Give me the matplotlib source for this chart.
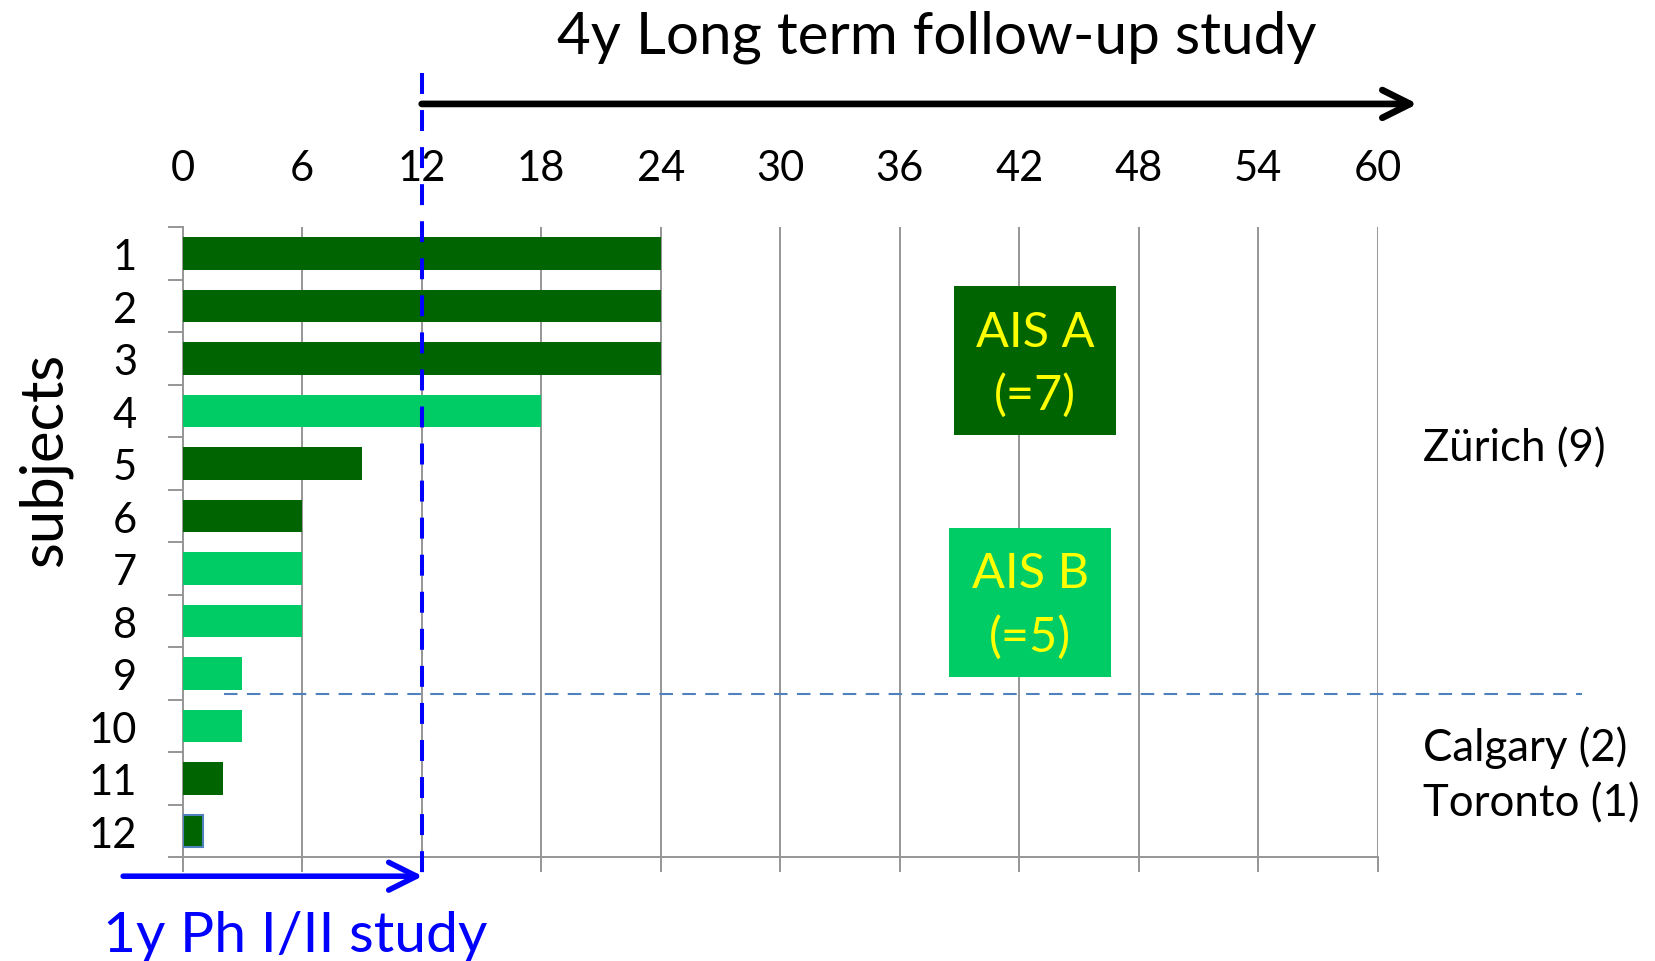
import matplotlib
matplotlib.use("Agg")
import matplotlib.pyplot as plt
from matplotlib.patches import Rectangle

# ── Data ──────────────────────────────────────────────────────────────────────
subjects = list(range(1, 13))
followup_months = [24, 24, 24, 18, 9, 6, 6, 6, 3, 3, 2, 1]
ais_grade = ["A", "A", "A", "B", "A", "A", "B", "B", "B", "B", "A", "A"]
month_ticks = list(range(0, 61, 6))
site_labels = ["Zürich (9)", "Calgary (2)", "Toronto (1)"]

# ── Style ─────────────────────────────────────────────────────────────────────
DARK_GREEN = "#006400"
LIGHT_GREEN = "#00CC66"
GRADE_COLORS = {"A": DARK_GREEN, "B": LIGHT_GREEN}
GRID_GRAY = "#969696"
FONT = "Lato"

plt.rcParams["font.family"] = [FONT, "DejaVu Sans"]

W, H = 1655, 962
fig = plt.figure(figsize=(W / 100, H / 100), dpi=100)
ax = fig.add_axes([182.7 / W, 1 - 858.3 / H, 1195 / W, 630 / H])


def fx(px):
    return px / W


def fy(py):
    return 1 - py / H


# bars
colors = [GRADE_COLORS[g] for g in ais_grade]
bars = ax.barh(subjects, followup_months, height=0.615, color=colors,
               edgecolor="none", zorder=3)
bars[-1].set_edgecolor("#4F81BD")
bars[-1].set_linewidth(1.5)

ax.set_xlim(0, 60)
ax.set_ylim(12.5, 0.5)

# x axis: labels on top, tick marks at the bottom
ax.set_xticks(month_ticks)
ax.set_xticklabels([str(m) for m in month_ticks])
ax.tick_params(axis="x", which="major", bottom=True, top=False,
               labelbottom=False, labeltop=True, direction="out",
               length=10.8, width=1.4, color=GRID_GRAY,
               labelsize=30, pad=18)
ax.xaxis.grid(True, color=GRID_GRAY, linewidth=1.4, zorder=0)
ax.set_axisbelow(True)

# y axis: ticks at row boundaries, labels at row centres
ax.set_yticks([i + 0.5 for i in range(0, 13)])
ax.set_yticklabels([])
ax.set_yticks(subjects, minor=True)
ax.set_yticklabels([str(s) for s in subjects], minor=True)
ax.tick_params(axis="y", which="major", direction="out", length=10.8,
               width=1.4, color=GRID_GRAY)
ax.tick_params(axis="y", which="minor", length=0, labelsize=30, pad=33)

for side in ["top", "right"]:
    ax.spines[side].set_visible(False)
for side in ["left", "bottom"]:
    ax.spines[side].set_color(GRID_GRAY)
    ax.spines[side].set_linewidth(1.4)

# 12-month cut-off of the phase I/II study
ax.plot([12, 12], [-2.44, 12.86], color="#0000FF", lw=2.9,
        linestyle=(0, (5.2, 4)), clip_on=False, zorder=5)

# site separator
ax.plot([2.07, 70.25], [9.39, 9.39], color="#4F81BD", lw=1.5,
        linestyle=(0, (6.5, 4.5)), clip_on=False, zorder=4)

# study period arrows
ax.annotate("", xy=(62.0, -1.85), xytext=(12, -1.85), annotation_clip=False,
            arrowprops=dict(arrowstyle="->,head_length=1.0,head_width=0.5",
                            lw=4.8, color="black", shrinkA=0, shrinkB=0,
                            mutation_scale=20))
ax.annotate("", xy=(12.05, 12.86), xytext=(-2.99, 12.86), annotation_clip=False,
            arrowprops=dict(arrowstyle="->,head_length=1.0,head_width=0.5",
                            lw=4.0, color="#0000FF", shrinkA=0, shrinkB=0,
                            mutation_scale=20))

# AIS legend boxes
for grade, (x0, x1, y0, y1, xc, yb1, yb2) in zip(
        ["A", "B"],
        [(38.73, 46.86, 1.618, 4.45, 42.8, 2.761, 3.961),
         (38.47, 46.61, 6.228, 9.06, 42.55, 7.357, 8.565)]):
    n = ais_grade.count(grade)
    ax.add_patch(Rectangle((x0, y0), x1 - x0, y1 - y0,
                           facecolor=GRADE_COLORS[grade], edgecolor="none",
                           zorder=6))
    ax.text(xc, yb1, f"AIS {grade}", color="#FFFF00", fontsize=35,
            ha="center", va="baseline", zorder=7)
    ax.text(xc, yb2, f"(={n})", color="#FFFF00", fontsize=35,
            ha="center", va="baseline", zorder=7)

# site labels
for label, yb in zip(site_labels, [4.946, 10.64, 11.71]):
    ax.text(62.27, yb, label, fontsize=31.5, ha="left", va="baseline",
            clip_on=False)

fig.text(fx(556.7), fy(53.3), "4y Long term follow-up study", fontsize=42,
         ha="left", va="baseline")
fig.text(fx(103), fy(951.7), "1y Ph I/II study", fontsize=41,
         color="#0000FF", ha="left", va="baseline")
fig.text(fx(61.7), fy(460), "subjects", fontsize=43, rotation=90,
         rotation_mode="anchor", ha="center", va="baseline")

fig.savefig("out.png", dpi=100)
